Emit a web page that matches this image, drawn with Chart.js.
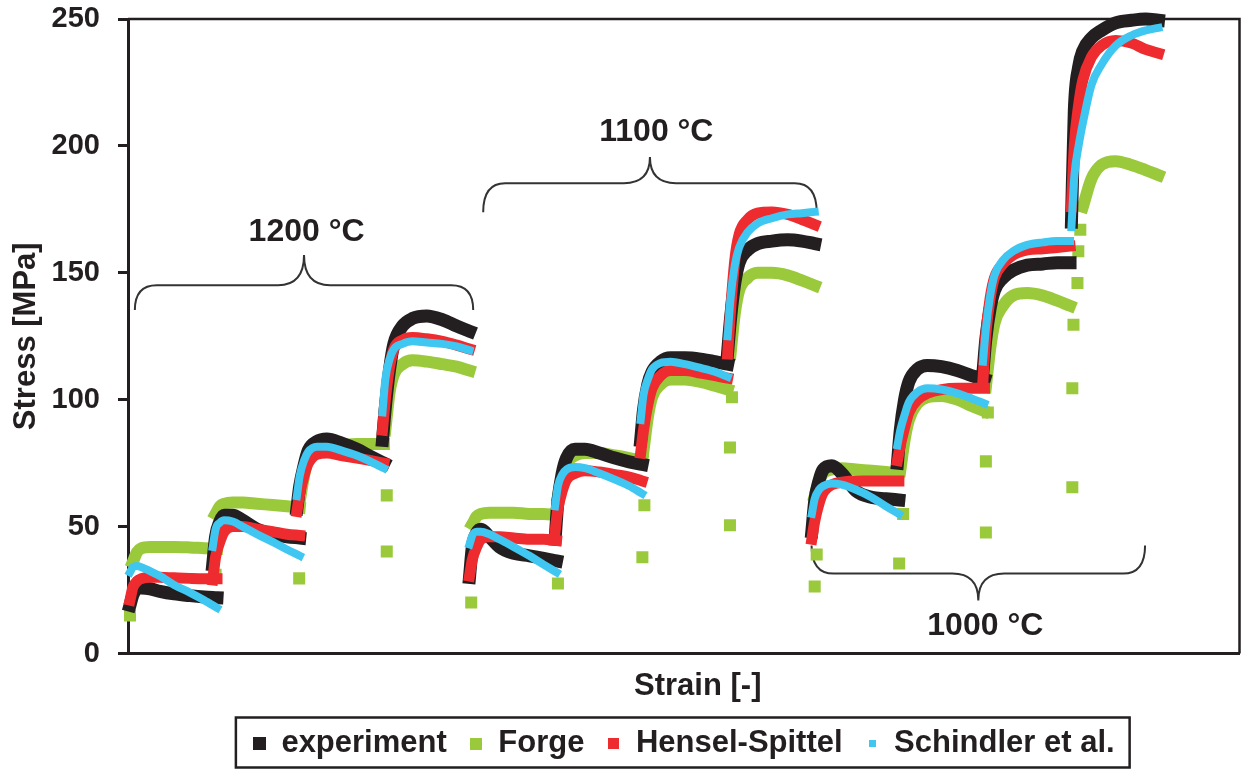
<!DOCTYPE html>
<html>
<head>
<meta charset="utf-8">
<title>Stress - strain</title>
<script src="https://cdn.jsdelivr.net/npm/chart.js@4.4.1/dist/chart.umd.min.js"></script>
<style>
    html, body { margin: 0; padding: 0; background: #fff; }
    #wrap { width: 1248px; height: 769px; position: relative; }
</style>
</head>
<body>
<div id="wrap"><canvas id="myChart"></canvas></div>
<script>
// strain at the start of each of the 12 passes (1200, 1100, 1000 °C, 4 passes each)
const passStart = [0, 0.29, 0.585, 0.885, 1.19, 1.49, 1.79, 2.095, 2.39, 2.69, 2.99, 3.30];
// strain inside one pass where the values below were read
const passStrain = [0, 0.01, 0.025, 0.04, 0.07, 0.105, 0.155, 0.21, 0.26, 0.305];
const temperatures = ["1200 °C", "1100 °C", "1000 °C"];
const yTicks = [0, 50, 100, 150, 200, 250];

// stress [MPa], one row per pass
const experiment = [
    [19, 23, 25.5, 25.8, 25.5, 24.5, 23.5, 22.8, 22.3, 22],
    [35, 46, 52, 54.5, 54.5, 52.5, 49, 47, 46, 45.5],
    [57, 66, 74, 80, 83.5, 84.5, 83, 80.5, 77.5, 75],
    [84, 97, 112, 122, 129, 132, 133, 131.5, 129, 127],
    [30, 42, 47.5, 49, 46, 42, 39.5, 38.5, 37.5, 36.5],
    [45, 60, 71, 77, 80.5, 80.5, 79, 77, 75.5, 74.5],
    [84, 96, 106, 111, 115, 116.5, 116.5, 116, 115, 114],
    [119, 132, 146, 154, 159, 161.5, 162.5, 163, 162.5, 161.5],
    [48, 60, 68, 72.5, 74, 71, 64, 61.5, 61, 60.5],
    [75, 88, 100, 107, 112, 113.5, 113, 111.5, 109.5, 108],
    [111, 124, 136, 143, 148, 151, 153, 153.5, 154, 154],
    [170, 214, 231, 237.5, 242.5, 245.5, 248.5, 249.5, 250, 249.5]
];
const forge = [
    [null, 36, 40, 41.5, 42, 42, 42, 41.8, 41.5, 41.3],
    [null, 55, 58, 59, 59.5, 59.5, 59, 58.5, 58, 57.5],
    [null, 60, 70, 77, 80, 81.5, 82, 82.5, 82.5, 82.5],
    [null, 88, 103, 110, 114, 115.5, 115, 114, 113, 111.5],
    [null, 51, 54, 55, 55.5, 55.5, 55.5, 55, 55, 54.5],
    [null, 62, 70, 75, 78, 79, 79, 78, 77, 76],
    [null, 80, 93, 101, 106, 108, 108, 107, 105.5, 104],
    [null, 118, 134, 143, 148, 150, 150, 149, 147, 145],
    [null, 62, 68, 71, 72.5, 73, 72.5, 72, 71.5, 71],
    [null, 72, 84, 92, 98.5, 101, 101.5, 100, 97.5, 95.5],
    [null, 105, 120, 130, 137, 141, 142, 141, 139, 137],
    [null, null, null, 176, 187, 192.5, 194, 192.5, 190.5, 188.5]
];
// lone Forge points on the steep start of each pass [strain, stress]
const forgeStart = [
    [0.0, 15], [0.3, 31], [0.593, 29.6], [0.9, 40.2], [0.9, 62.3],
    [1.196, 20.1], [1.5, 27.6], [1.796, 37.9], [1.803, 58.4],
    [2.103, 50.5], [2.103, 81.2], [2.11, 101],
    [2.4, 26.4], [2.407, 39], [2.696, 35.5], [2.71, 55],
    [3.0, 47.7], [3.0, 75.7], [3.007, 95],
    [3.303, 65.5], [3.303, 104.5], [3.307, 129.5], [3.321, 146], [3.324, 158.5], [3.331, 167]
];
const henselSpittel = [
    [21, 26, 28.5, 29.5, 30, 30, 29.8, 29.6, 29.5, 29.5],
    [29, 38, 44, 48, 50, 50, 49, 48, 47, 46.5],
    [56, 63, 70, 75, 78.5, 79, 78, 77, 76, 75],
    [88, 100, 113, 120, 123.5, 124.5, 124, 123, 121.5, 120],
    [30.5, 37, 42, 45, 46, 46, 45.5, 45, 45, 44.5],
    [48, 57, 64, 68.5, 71, 72, 71.5, 70.5, 69.5, 68],
    [79, 88, 98, 104.5, 109.5, 111.5, 111.5, 110.5, 109.5, 108.5],
    [118, 135, 155, 165, 171, 173.5, 174, 173, 171, 169],
    [45, 52, 59, 63.5, 66.5, 67.5, 68, 68, 68, 68],
    [76, 82, 89, 95, 100, 102.5, 104, 104.5, 104.5, 104.5],
    [108, 126, 140, 148, 153.5, 157, 159, 159.5, 160, 160.5],
    [176, 200, 216, 226, 235, 239.5, 241.5, 240.5, 238, 236.5]
];
const schindler = [
    [32, 34, 34.5, 34, 32.5, 30.5, 27, 24, 21, 18],
    [42, 49, 51.5, 52.5, 52, 50, 47, 44, 41, 38.5],
    [62, 70, 76, 79.5, 81.5, 81.5, 80, 78, 75.5, 73],
    [95, 108, 116, 120, 122, 123, 122.5, 122, 121, 119.5],
    [43, 46.5, 48, 48, 47, 45, 42, 38.5, 35, 32],
    [58, 66, 70.5, 72.5, 73.5, 73, 71, 68.5, 66, 63],
    [92, 102, 108, 112, 114.5, 115, 114, 112.5, 111, 109],
    [125, 140, 153, 160, 166, 169.5, 171.5, 173, 173.5, 174],
    [55, 61, 64.5, 66, 67, 66.5, 64.5, 61.5, 58, 55],
    [82, 88, 94, 99, 103, 104.5, 104, 102.5, 100.5, 98.5],
    [115, 128, 141, 149, 155, 158.5, 161, 162, 162.5, 162.5],
    [168, 188, 200, 209, 224, 232, 239.5, 243.5, 245.5, 246.5]
];

const ink = "#231f20";
const font = "'Liberation Sans', Arial, sans-serif";

// brace annotations (strain / stress coordinates)
const braceSpec = [
    { x0: 0.017, x1: 1.203, yEnd: 135.3, yBar: 145.1, yTip: 157.0, tx: 0.619, ty: 166.0 },
    { x0: 1.238, x1: 2.407, yEnd: 173.9, yBar: 185.3, yTip: 195.6, tx: 1.845, ty: 205.4 },
    { x0: 2.389, x1: 3.558, yEnd: 42.6, yBar: 31.5, yTip: 20.9, tx: 2.998, ty: 10.6 }
];

function buildSeries(rows) {
    let pts = [];
    rows.forEach((row, i) => {
        row.forEach((v, j) => {
            pts.push({ x: passStart[i] + passStrain[j], y: v });
        });
        pts.push({ x: passStart[i] + passStrain[passStrain.length - 1] + 0.001, y: null });
    });
    return pts;
}

function square(size, color) {
    let c = document.createElement("canvas");
    c.width = size;
    c.height = size;
    let g = c.getContext("2d");
    g.fillStyle = color;
    g.fillRect(0, 0, size, size);
    return c;
}

function band(label, rows, color, width, order) {
    return {
        label: label,
        data: buildSeries(rows),
        showLine: true,
        borderColor: color,
        backgroundColor: color,
        borderWidth: width,
        borderCapStyle: "square",
        pointRadius: 0,
        pointHoverRadius: 0,
        cubicInterpolationMode: "monotone",
        spanGaps: false,
        clip: 10,
        order: order
    };
}

const legendSquares = [square(13, ink), square(12, "#9aca3c"), square(11, "#ee2b2f"), square(7, "#3fc6f1")];

const decorPlugin = {
    id: "decor",
    beforeDatasetsDraw(chart) {
        const { ctx, chartArea: a, scales: { x, y } } = chart;
        ctx.save();
        ctx.strokeStyle = "#333";
        ctx.lineWidth = 2;
        braceSpec.forEach((b, i) => {
            let x0 = x.getPixelForValue(b.x0), x1 = x.getPixelForValue(b.x1);
            let xm = (x0 + x1) / 2;
            let ye = y.getPixelForValue(b.yEnd), yb = y.getPixelForValue(b.yBar), yt = y.getPixelForValue(b.yTip);
            let r = 22, rt = 26;
            ctx.beginPath();
            ctx.moveTo(x0, ye);
            ctx.quadraticCurveTo(x0, yb, x0 + r, yb);
            ctx.lineTo(xm - rt, yb);
            ctx.quadraticCurveTo(xm, yb, xm, yt);
            ctx.quadraticCurveTo(xm, yb, xm + rt, yb);
            ctx.lineTo(x1 - r, yb);
            ctx.quadraticCurveTo(x1, yb, x1, ye);
            ctx.stroke();

            ctx.fillStyle = ink;
            ctx.font = "bold 32px " + font;
            ctx.textAlign = "center";
            ctx.textBaseline = "middle";
            ctx.fillText(temperatures[i], x.getPixelForValue(b.tx), y.getPixelForValue(b.ty));
        });

        // x axis title, sitting a little right of the plot centre as in the source figure
        ctx.fillStyle = ink;
        ctx.font = "bold 31px " + font;
        ctx.textAlign = "center";
        ctx.textBaseline = "middle";
        ctx.fillText("Strain [-]", (a.left + a.right) / 2 + 14, a.bottom + 33);
        ctx.restore();
    },
    afterDraw(chart) {
        const { ctx, chartArea: a, legend } = chart;
        ctx.save();
        ctx.strokeStyle = ink;
        ctx.lineWidth = 2.5;
        ctx.beginPath();
        ctx.moveTo(a.left, a.top);
        ctx.lineTo(a.right, a.top);
        ctx.lineTo(a.right, a.bottom);
        ctx.stroke();

        // frame round the legend
        let boxes = legend.legendHitBoxes;
        if (boxes && boxes.length) {
            let last = boxes[boxes.length - 1];
            let left = boxes[0].left - 17;
            let right = last.left + last.width + 15;
            let top = legend.top + 12.5;
            let bottom = chart.height - 1.5;
            ctx.lineWidth = 2.5;
            ctx.strokeRect(left, top, right - left, bottom - top);
        }
        ctx.restore();
    }
};

const config = {
    type: "scatter",
    data: {
        datasets: [
            band("experiment", experiment, ink, 13, 3),
            band("Forge", forge, "#9aca3c", 12, 4),
            band("Hensel-Spittel", henselSpittel, "#ee2b2f", 11, 2),
            band("Schindler et al.", schindler, "#3fc6f1", 8, 1),
            {
                label: "Forge start",
                data: forgeStart.map(p => ({ x: p[0], y: p[1] })),
                showLine: false,
                pointStyle: "rect",
                pointRadius: 8.5,
                pointHoverRadius: 8.5,
                pointBorderWidth: 0,
                backgroundColor: "#9aca3c",
                borderColor: "#9aca3c",
                clip: 10,
                order: 5
            }
        ]
    },
    options: {
        responsive: true,
        maintainAspectRatio: false,
        animation: false,
        layout: {
            padding: { top: 19, right: 3, bottom: 0, left: 0 }
        },
        plugins: {
            tooltip: { enabled: false },
            legend: {
                position: "bottom",
                fullSize: false,
                labels: {
                    usePointStyle: true,
                    boxWidth: 13,
                    boxHeight: 13,
                    padding: 23,
                    color: ink,
                    font: { family: font, size: 31, weight: "bold" },
                    generateLabels: (chart) => {
                        let items = Chart.defaults.plugins.legend.labels.generateLabels(chart);
                        return items
                            .filter(it => it.datasetIndex < 4)
                            .sort((a, b) => a.datasetIndex - b.datasetIndex)
                            .map(it => {
                                it.pointStyle = legendSquares[it.datasetIndex];
                                it.lineWidth = 0;
                                return it;
                            });
                    }
                }
            }
        },
        scales: {
            x: {
                type: "linear",
                min: -0.007,
                max: 3.889,
                ticks: { display: false },
                grid: { display: false },
                border: { display: true, color: ink, width: 3 },
                afterFit: (scale) => { scale.height = 51.5; }
            },
            y: {
                min: 0,
                max: 250,
                afterBuildTicks: (scale) => { scale.ticks = yTicks.map(v => ({ value: v })); },
                ticks: {
                    color: ink,
                    padding: 18,
                    font: { family: font, size: 29, weight: "bold" }
                },
                grid: {
                    drawOnChartArea: false,
                    drawTicks: true,
                    tickLength: 10,
                    tickWidth: 3,
                    tickColor: ink
                },
                border: { display: true, color: ink, width: 3 },
                title: {
                    display: true,
                    text: "Stress [MPa]",
                    color: ink,
                    font: { family: font, size: 31, weight: "bold" },
                    padding: { top: 8, bottom: 0 }
                },
                afterFit: (scale) => {
                    scale.width = 128;
                    scale.paddingTop = 0;
                    scale.paddingBottom = 0;
                }
            }
        }
    },
    plugins: [decorPlugin]
};

const myChart = new Chart(document.getElementById("myChart"), config);
</script>
</body>
</html>
